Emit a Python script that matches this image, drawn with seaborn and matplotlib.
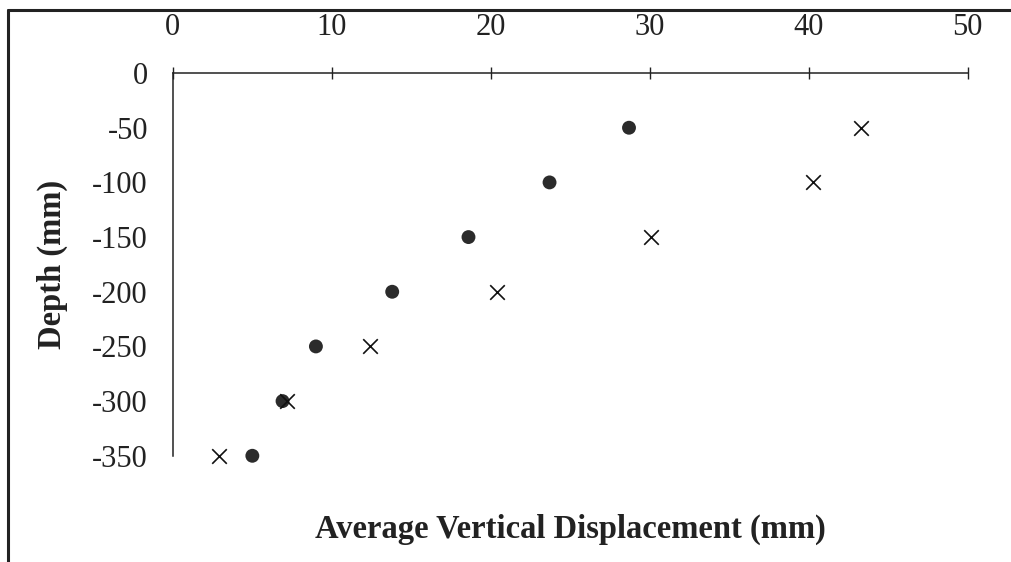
import pandas as pd
import numpy as np
import matplotlib.pyplot as plt
import seaborn as sns
from matplotlib.lines import Line2D

# depth levels (mm)
depth = [-50, -100, -150, -200, -250, -300, -350]

# average vertical displacement (mm) for the two data sets
disp_dots = [28.7, 23.7, 18.6, 13.8, 9.0, 6.9, 5.0]
disp_cross = [43.3, 40.3, 30.1, 20.4, 12.4, 7.2, 2.9]

x_ticks = [0, 10, 20, 30, 40, 50]
y_ticks = [0, -50, -100, -150, -200, -250, -300, -350]

sns.set_style("white")
plt.rcParams["font.family"] = ["Liberation Serif", "DejaVu Serif"]
plt.rcParams["axes.unicode_minus"] = False

dots_df = pd.DataFrame({"disp": disp_dots, "depth": depth})
cross_df = pd.DataFrame({"disp": disp_cross, "depth": depth})

fig = plt.figure(figsize=(10.11, 5.62), dpi=100)
ax = fig.add_axes([0.171, 0.189, 0.786, 0.681])

sns.scatterplot(
    data=dots_df,
    x="disp",
    y="depth",
    marker="o",
    s=100,
    color="#2b2b2b",
    edgecolor="none",
    clip_on=False,
    ax=ax,
    zorder=3
)

sns.scatterplot(
    data=cross_df,
    x="disp",
    y="depth",
    marker="x",
    s=110,
    color="#111111",
    linewidth=1.2,
    clip_on=False,
    ax=ax,
    zorder=4
)

ax.set_xlim(0, 50)
ax.set_ylim(-350, 0)
ax.set_xticks(x_ticks)
ax.set_yticks(y_ticks)

ax.xaxis.tick_top()
ax.tick_params(axis="x", direction="inout", length=9, width=1,
               pad=18, labelsize=22, colors="#222222")
ax.tick_params(axis="y", direction="inout", length=12, width=1,
               pad=12, labelsize=22, colors="#222222")

for side in ["right", "bottom"]:
    ax.spines[side].set_visible(False)
for side in ["left", "top"]:
    ax.spines[side].set_color("#222222")
    ax.spines[side].set_linewidth(1.1)

ax.set_xlabel("")
ax.set_ylabel("")
ax.text(0.5, -0.192, "Average Vertical Displacement (mm)",
        transform=ax.transAxes, ha="center", va="center",
        fontsize=23.5, fontweight="bold", color="#222222")
ax.text(-0.152, 0.5, "Depth (mm)", transform=ax.transAxes,
        ha="center", va="center", rotation=90,
        fontsize=23.5, fontweight="bold", color="#222222")

# outer frame (left and top edges)
fig.add_artist(Line2D([0.008, 0.008], [0.0, 0.982], color="#222222",
                      linewidth=2.2, transform=fig.transFigure))
fig.add_artist(Line2D([0.008, 1.0], [0.982, 0.982], color="#222222",
                      linewidth=2.2, transform=fig.transFigure))

fig.savefig("out.png", dpi=100)
